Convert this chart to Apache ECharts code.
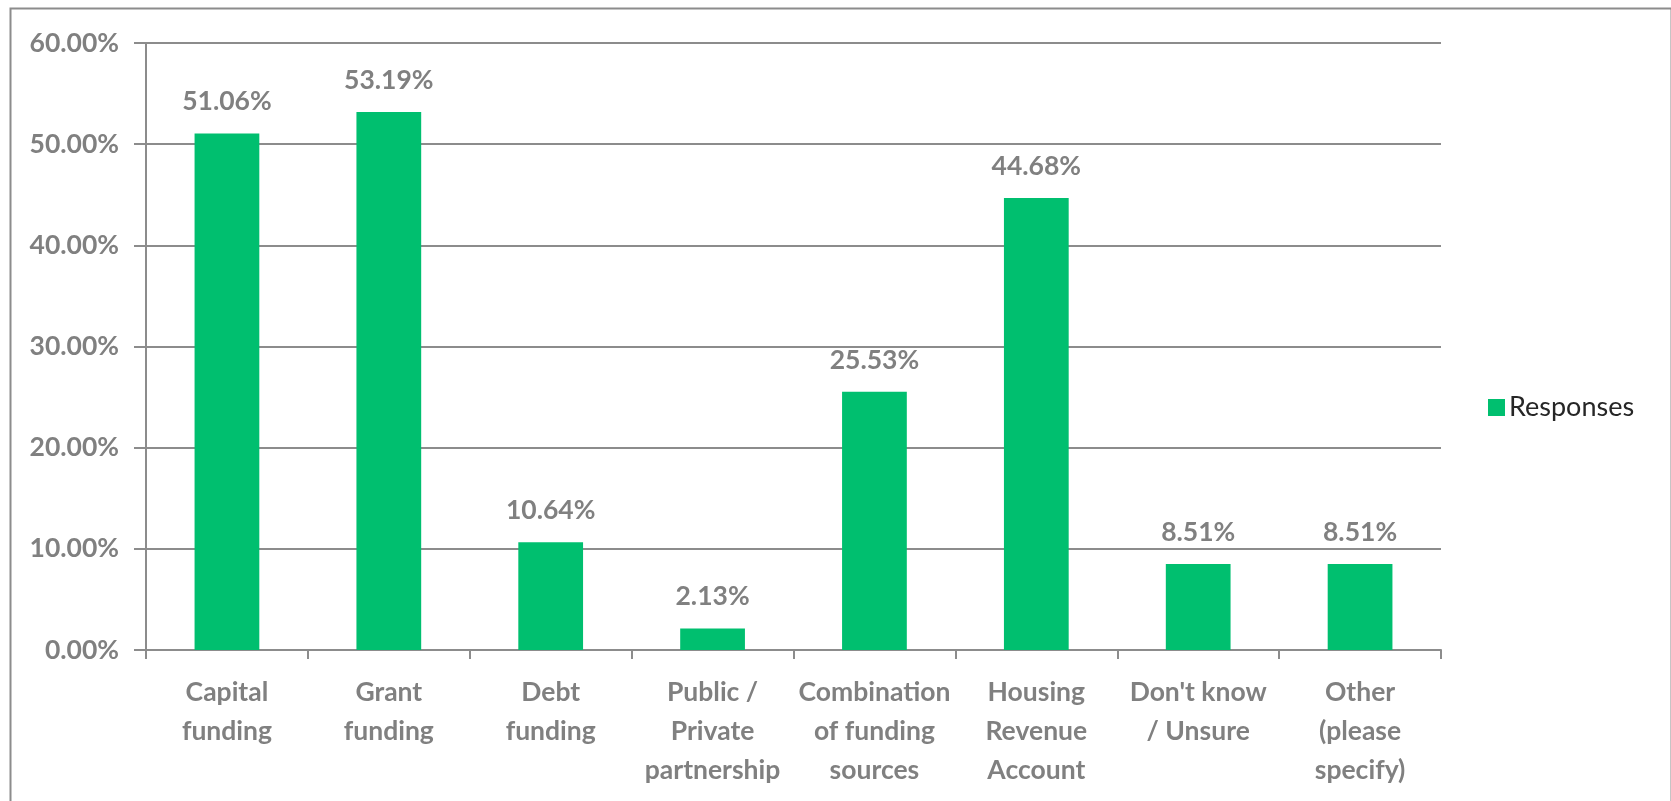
<!DOCTYPE html>
<html>
<head>
<meta charset="utf-8">
<script src="https://cdn.jsdelivr.net/npm/echarts@6/dist/echarts.min.js"></script>
<style>
html,body{margin:0;padding:0;background:#fff;}
#chart{width:1671px;height:801px;}
</style>
</head>
<body>
<div id="chart"></div>
<script>
const categories = ["Capital\nfunding", "Grant\nfunding", "Debt\nfunding", "Public /\nPrivate\npartnership", "Combination\nof funding\nsources", "Housing\nRevenue\nAccount", "Don't know\n/ Unsure", "Other\n(please\nspecify)"];
const seriesName = "Responses";
const values = [51.06, 53.19, 10.64, 2.13, 25.53, 44.68, 8.51, 8.51];
const yTicks = [0, 10, 20, 30, 40, 50, 60];

const FONT = "Lato";
const GRAY = "#808080";
const LINE = "#8c8c8c";

const chart = echarts.init(document.getElementById('chart'));
chart.setOption({
  animation: false,
  textStyle: {fontFamily: FONT},
  graphic: [{
    type: 'rect', left: 8, top: 6, z: 100,
    shape: {width: 1661, height: 900},
    style: {fill: 'none', stroke: LINE, lineWidth: 2}
  }],
  grid: {left: 146, right: 230, top: 43, bottom: 151},
  legend: {
    data: [seriesName],
    left: 1483, top: 389,
    icon: 'rect', itemWidth: 17, itemHeight: 17, itemGap: 10,
    textStyle: {fontFamily: FONT, fontSize: 27, color: '#262626', padding: [0,0,0,-1]}
  },
  xAxis: {
    type: 'category',
    data: categories,
    axisLine: {lineStyle: {color: LINE, width: 2}},
    axisTick: {show: true, length: 9, alignWithLabel: false, lineStyle: {color: LINE, width: 2}},
    axisLabel: {interval: 0, margin: 23, fontFamily: FONT, fontSize: 26.5, fontWeight: 'bold', color: GRAY, lineHeight: 39}
  },
  yAxis: {
    type: 'value',
    min: yTicks[0], max: yTicks[yTicks.length-1], interval: 10,
    axisLine: {show: true, lineStyle: {color: LINE, width: 2}},
    axisTick: {show: true, length: 12, lineStyle: {color: LINE, width: 2}},
    splitLine: {show: true, lineStyle: {color: LINE, width: 2}},
    axisLabel: {margin: 27, fontFamily: FONT, fontSize: 26.5, fontWeight: 'bold', color: GRAY,
      formatter: v => v.toFixed(2) + '%'}
  },
  series: [{
    name: seriesName,
    type: 'bar',
    data: values,
    barWidth: '40%',
    itemStyle: {color: '#00bf6f'},
    label: {show: true, position: 'top', distance: 18, fontFamily: FONT, fontSize: 26.5, fontWeight: 'bold', color: GRAY,
      formatter: p => p.value.toFixed(2) + '%'}
  }]
});
</script>
</body>
</html>
